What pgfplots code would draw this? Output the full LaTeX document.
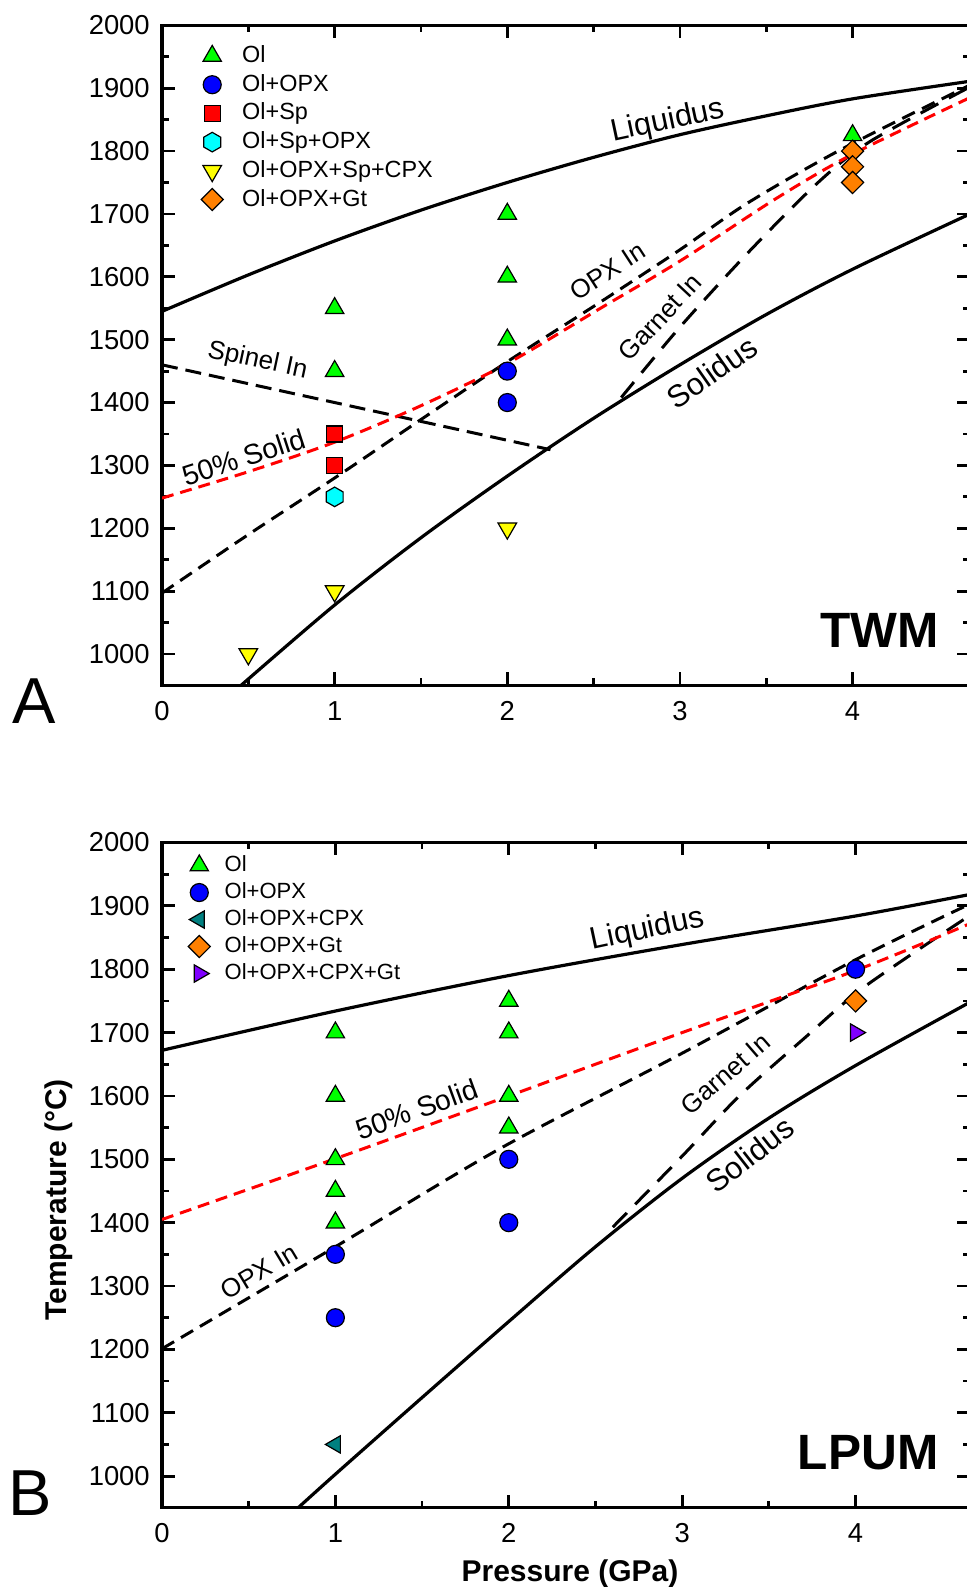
\documentclass[border=0pt]{standalone}
\usepackage{fontspec}
\setmainfont{Liberation Sans}
\usepackage{pgfplots}
\pgfplotsset{compat=1.18}

\definecolor{olgreen}{HTML}{00FF00}
\definecolor{opxblue}{HTML}{0000FF}
\definecolor{spred}{HTML}{FF0000}
\definecolor{hexcyan}{HTML}{00FFFF}
\definecolor{cpxyellow}{HTML}{FFFF00}
\definecolor{gtorange}{HTML}{FF8000}
\definecolor{cpxteal}{HTML}{008080}
\definecolor{gtpurple}{HTML}{8000FF}

% pointy-top hexagon mark
\pgfdeclareplotmark{hexagon}{%
  \pgfpathmoveto{\pgfpointpolar{90}{\pgfplotmarksize}}%
  \pgfpathlineto{\pgfpointpolar{150}{\pgfplotmarksize}}%
  \pgfpathlineto{\pgfpointpolar{210}{\pgfplotmarksize}}%
  \pgfpathlineto{\pgfpointpolar{270}{\pgfplotmarksize}}%
  \pgfpathlineto{\pgfpointpolar{330}{\pgfplotmarksize}}%
  \pgfpathlineto{\pgfpointpolar{30}{\pgfplotmarksize}}%
  \pgfpathclose
  \pgfusepathqfillstroke}

\tikzset{
  lab/.style={font=\fontsize{13}{15}\selectfont},
  biglab/.style={font=\fontsize{15.5}{18}\selectfont},
  midlab/.style={font=\fontsize{14.2}{17}\selectfont},
  tag/.style={anchor=base east,inner sep=0pt,font=\fontsize{24.8}{28}\selectfont\bfseries},
}

\pgfplotsset{
  phase/.style={
    scale only axis, clip mode=individual,
    axis line style={line width=1.6pt},
    xmin=0, ymin=950, ymax=2000,
    xtick={0,1,2,3,4}, minor x tick num=1,
    ytick={1000,1100,...,2000}, minor y tick num=1,
    major tick length=6.5pt, minor tick length=3.5pt,
    tick style={black,line width=1.4pt},
    tick label style={font=\fontsize{13.7}{16}\selectfont},
    /pgf/number format/assume math mode=true,
    /pgf/number format/1000 sep={},
    xticklabel style={yshift=-4.4pt},
    yticklabel style={xshift=-2.6pt},
    legend cell align=left,
    legend image code/.code={\draw[##1] plot coordinates {(0pt,0pt)};},
  },
  bound/.style={black,line width=1.6pt,smooth,no markers,forget plot},
  opxin/.style={black,line width=1.5pt,dash pattern=on 7pt off 4pt,smooth,no markers,forget plot},
  half/.style={spred,line width=1.5pt,dash pattern=on 6pt off 3.5pt,smooth,no markers,forget plot},
  gtin/.style={black,line width=1.5pt,dash pattern=on 10pt off 6pt,smooth,no markers,forget plot},
  spin/.style={black,line width=1.5pt,dash pattern=on 8pt off 4pt,no markers,forget plot},
  pt/.style 2 args={only marks,mark options={draw=black,line width=0.6pt,fill=#1,rotate=#2}},
}

\begin{document}
\begin{tikzpicture}
\useasboundingbox (0,0) rectangle (483pt,793.5pt);

% ---------------- A: TWM ----------------
\begin{axis}[phase, at={(81pt,450.75pt)}, anchor=south west,
  width=404pt, height=330.1pt, xmax=4.68,
  legend style={draw=none,fill=none,inner sep=0pt,
    at={(axis description cs:0.048,0.973)},anchor=north west,
    font=\fontsize{11.7}{14}\selectfont,
    nodes={inner sep=0pt,text height=9.5pt,text depth=3pt},
    row sep=1.85pt,column sep=9.5pt}]
\addplot[bound] coordinates {(0,1545) (0.5,1603) (1,1657) (1.5,1706) (2,1750) (2.5,1790) (3,1826) (3.5,1856) (4,1883) (4.68,1911)};
\addplot[bound] coordinates {(0.457,950) (1,1078) (1.5,1185) (2,1283) (2.5,1375) (3,1460) (3.5,1540) (4,1612) (4.68,1700)};
\addplot[spin] coordinates {(0,1460) (2.25,1325)};
\addplot[opxin] coordinates {(0,1097) (0.5,1190) (1,1280) (1.5,1373) (2,1465) (2.54,1560) (3,1643) (3.39,1717) (3.93,1802) (4.68,1905)};
\addplot[gtin] coordinates {(2.66,1408) (3,1520) (3.4,1640) (3.8,1750) (4.1,1815) (4.68,1902)};
\addplot[half] coordinates {(0,1248) (0.5,1290) (1,1337) (1.5,1395) (2,1462) (2.54,1550) (3,1625) (3.56,1725) (4,1795) (4.68,1885)};

\addplot[pt={olgreen}{0}, mark=triangle*, mark size=5.3pt] coordinates {(1,1550) (1,1450) (2,1700) (2,1600) (2,1500) (4,1825)};
\addlegendentry{Ol}
\addplot[pt={opxblue}{0}, mark=*, mark size=4.5pt] coordinates {(2,1450) (2,1400)};
\addlegendentry{Ol+OPX}
\addplot[pt={spred}{0}, mark=square*, mark size=4pt] coordinates {(1,1350) (1,1300)};
\addlegendentry{Ol+Sp}
\addplot[pt={hexcyan}{0}, mark=hexagon, mark size=4.9pt] coordinates {(1,1250)};
\addlegendentry{Ol+Sp+OPX}
\addplot[pt={cpxyellow}{180}, mark=triangle*, mark size=5.4pt] coordinates {(0.5,1000) (1,1100) (2,1200)};
\addlegendentry{Ol+OPX+Sp+CPX}
\addplot[pt={gtorange}{45}, mark=square*, mark size=3.9pt] coordinates {(4,1800) (4,1775) (4,1750)};
\addlegendentry{Ol+OPX+Gt}

\node[biglab,rotate=12] at (axis cs:2.93,1847) {Liquidus};
\node[lab,rotate=33] at (axis cs:2.58,1609) {OPX In};
\node[lab,rotate=47] at (axis cs:2.885,1536) {Garnet In};
\node[biglab,rotate=35] at (axis cs:3.185,1448) {Solidus};
\node[lab,rotate=-12] at (axis cs:0.553,1466) {Spinel In};
\node[midlab,rotate=18] at (axis cs:0.475,1313) {50\% Solid};
\node[tag] at (axis cs:4.50,1010) {TWM};
\end{axis}

% ---------------- B: LPUM ----------------
\begin{axis}[phase, at={(81pt,39.6pt)}, anchor=south west,
  width=404pt, height=332.65pt, xmax=4.66,
  legend style={draw=none,fill=none,inner sep=0pt,
    at={(axis description cs:0.032,0.984)},anchor=north west,
    font=\fontsize{11}{13}\selectfont,
    nodes={inner sep=0pt,text height=9pt,text depth=3pt},
    row sep=1.5pt,column sep=7.2pt}]
\addplot[bound] coordinates {(0,1672) (1,1734) (2,1790) (3,1839) (4,1884) (4.66,1918)};
\addplot[bound] coordinates {(0.785,950) (1,1003) (1.5,1124) (2,1244) (2.5,1362) (3,1470) (3.5,1565) (4,1648) (4.66,1748)};
\addplot[opxin] coordinates {(0,1201) (1,1362) (1.95,1517) (2.99,1666) (4,1815) (4.66,1903)};
\addplot[gtin] coordinates {(2.6,1393) (3.0,1505) (3.33,1600) (3.7,1690) (4.05,1772) (4.66,1885)};
\addplot[half] coordinates {(0,1405) (1,1501) (2,1600) (3,1700) (4,1798) (4.66,1872)};

\addplot[pt={olgreen}{0}, mark=triangle*, mark size=5.3pt] coordinates {(1,1700) (1,1600) (1,1500) (1,1450) (1,1400) (2,1750) (2,1700) (2,1600) (2,1550)};
\addlegendentry{Ol}
\addplot[pt={opxblue}{0}, mark=*, mark size=4.5pt] coordinates {(1,1350) (1,1250) (2,1500) (2,1400) (4,1800)};
\addlegendentry{Ol+OPX}
\addplot[pt={cpxteal}{90}, mark=triangle*, mark size=5pt] coordinates {(1,1050)};
\addlegendentry{Ol+OPX+CPX}
\addplot[pt={gtorange}{45}, mark=square*, mark size=3.9pt] coordinates {(4,1750)};
\addlegendentry{Ol+OPX+Gt}
\addplot[pt={gtpurple}{-90}, mark=triangle*, mark size=5pt] coordinates {(4,1700)};
\addlegendentry{Ol+OPX+CPX+Gt}

\node[biglab,rotate=12] at (axis cs:2.80,1862) {Liquidus};
\node[midlab,rotate=20] at (axis cs:1.47,1579) {50\% Solid};
\node[lab,rotate=31] at (axis cs:0.56,1323) {OPX In};
\node[lab,rotate=41] at (axis cs:3.25,1635) {Garnet In};
\node[biglab,rotate=38] at (axis cs:3.39,1507) {Solidus};
\node[tag] at (axis cs:4.48,1011) {LPUM};
\end{axis}

\node[anchor=base,font=\fontsize{32.5}{36}\selectfont] at (16.96pt,431.5pt) {A};
\node[anchor=base,font=\fontsize{32.5}{36}\selectfont] at (15.2pt,35.55pt) {B};
\node[anchor=base,rotate=90,font=\fontsize{15}{18}\selectfont\bfseries] at (33.4pt,193.5pt) {Temperature (°C)};
\node[anchor=base,font=\fontsize{15}{18}\selectfont\bfseries] at (285pt,2.7pt) {Pressure (GPa)};
\end{tikzpicture}
\end{document}
